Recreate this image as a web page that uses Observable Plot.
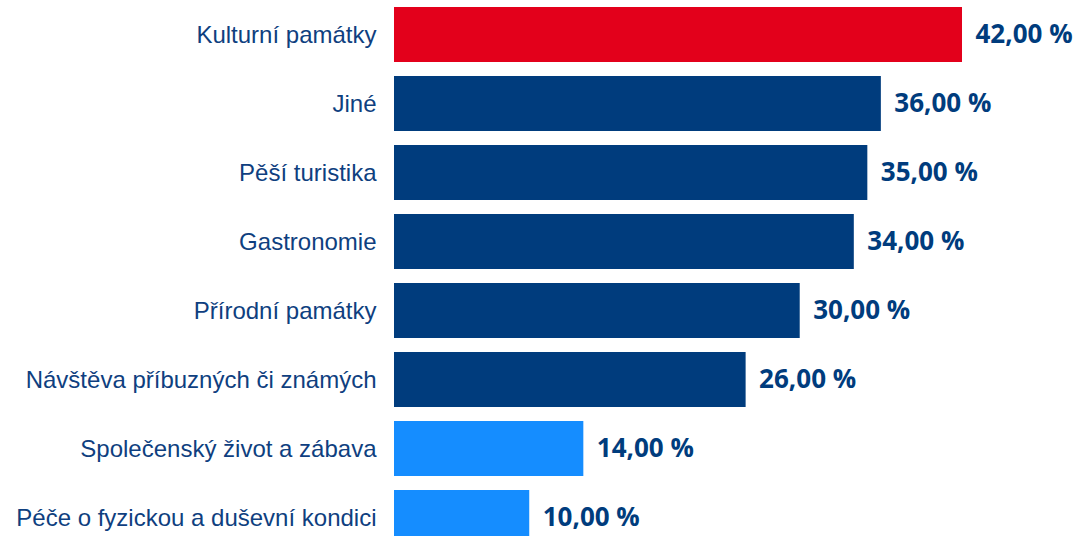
<!DOCTYPE html>
<html>
<head>
<meta charset="utf-8">
<script src="https://cdn.jsdelivr.net/npm/d3@7"></script>
<script src="https://cdn.jsdelivr.net/npm/@observablehq/plot@0.6"></script>
<style>
  html, body { margin: 0; padding: 0; background: #fff; overflow: hidden; }
</style>
</head>
<body>
<div id="chart"></div>
<script>
const categories = [
  "Kulturní památky",
  "Jiné",
  "Pěší turistika",
  "Gastronomie",
  "Přírodní památky",
  "Návštěva příbuzných či známých",
  "Společenský život a zábava",
  "Péče o fyzickou a duševní kondici"
];
const values = [42, 36, 35, 34, 30, 26, 14, 10];
const groups = ["top", "mid", "mid", "mid", "mid", "mid", "low", "low"];

const data = categories.map((c, i) => ({ category: c, value: values[i], group: groups[i] }));
const fmt = v => v.toFixed(2).replace(".", ",") + " %";

const chart = Plot.plot({
  width: 1077,
  height: 546,
  marginLeft: 394,
  marginRight: 115,
  marginTop: 6,
  marginBottom: 0,
  style: { fontFamily: "'Liberation Sans', Arial, sans-serif", background: "#fff" },
  x: { domain: [0, 42], axis: null },
  y: { domain: categories, padding: 0.205, paddingOuter: 0, axis: null },
  color: { domain: ["top", "mid", "low"], range: ["#e3001b", "#003c7d", "#158dff"] },
  marks: [
    Plot.barX(data, { y: "category", x: "value", fill: "group" }),
    Plot.text(data, {
      y: "category", x: 0, text: "category",
      textAnchor: "end", dx: -18, fontSize: 24,
      fontFamily: "'Liberation Sans', Arial, sans-serif", fill: "#0f3f7f"
    }),
    Plot.text(data, {
      y: "category", x: "value", text: d => fmt(d.value),
      textAnchor: "start", dx: 13, fontSize: 26, fontWeight: "bold",
      fontFamily: "'Open Sans', sans-serif", fill: "#003c7d"
    })
  ]
});
document.getElementById("chart").appendChild(chart);
</script>
</body>
</html>
